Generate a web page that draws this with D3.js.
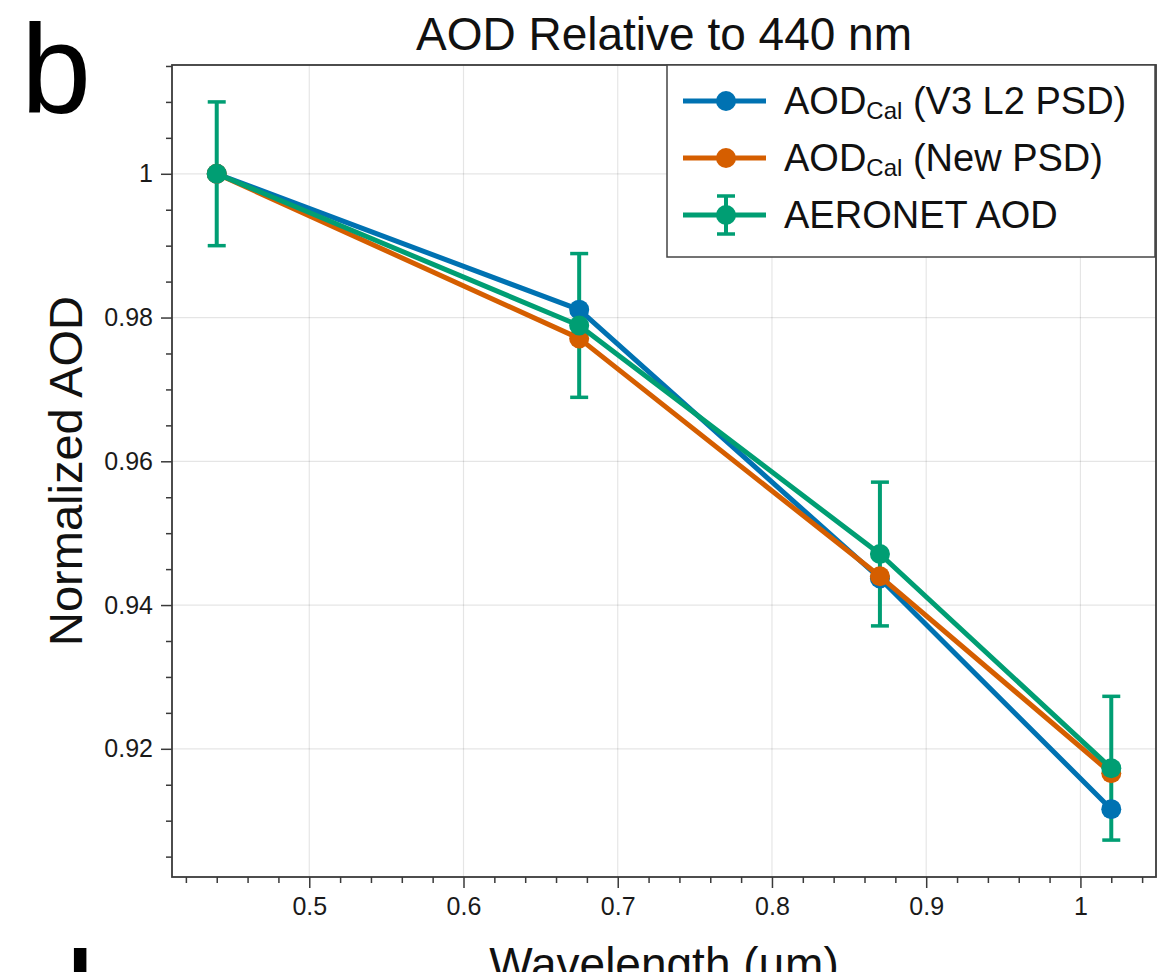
<!DOCTYPE html>
<html>
<head>
<meta charset="utf-8">
<script src="https://cdn.jsdelivr.net/npm/d3@7/dist/d3.min.js"></script>
<style>
  html, body { margin: 0; padding: 0; background: #fff; }
  svg { display: block; font-family: "Liberation Sans", Arial, Helvetica, sans-serif; }
</style>
</head>
<body>
<svg id="chart" width="1172" height="972"></svg>
<script>
// ---- data ----
const wavelengths = [0.44, 0.675, 0.87, 1.02];
const aodV3 = [1.0, 0.9811, 0.9437, 0.9116];
const aodNew = [1.0, 0.9771, 0.9440, 0.9166];
const aodAeronet = [1.0, 0.9789, 0.9471, 0.9173];
const aeronetErr = [0.01, 0.01, 0.01, 0.01];
const xTickValues = [0.5, 0.6, 0.7, 0.8, 0.9, 1.0];
const xTickLabels = ["0.5", "0.6", "0.7", "0.8", "0.9", "1"];
const yTickValues = [0.92, 0.94, 0.96, 0.98, 1.0];
const yTickLabels = ["0.92", "0.94", "0.96", "0.98", "1"];
const titleText = "AOD Relative to 440 nm";
const xLabel = "Wavelength (\u00b5m)";
const yLabel = "Normalized AOD";
const panelLabel = "b";
const nextPanelLabel = "d";

const colors = { v3: "#0072B2", nw: "#D55E00", ae: "#009E73" };

const svg = d3.select("#chart");
const L = 172, R = 1156, T = 65, B = 877;

// autolimits with 5% margin (data + error bars)
const xExt = d3.extent(wavelengths);
const xPad = (xExt[1] - xExt[0]) * 0.05;
const lows = aodAeronet.map((v, i) => v - aeronetErr[i]).concat(aodV3, aodNew);
const highs = aodAeronet.map((v, i) => v + aeronetErr[i]).concat(aodV3, aodNew);
const yLo = d3.min(lows), yHi = d3.max(highs);
const yPad = (yHi - yLo) * 0.05;

const x = d3.scaleLinear().domain([xExt[0] - xPad, xExt[1] + xPad]).range([L, R]);
const y = d3.scaleLinear().domain([yLo - yPad, yHi + yPad]).range([B, T]);

// minor ticks
const xMinor = d3.range(0.42, 1.0491, 0.02).filter(v => !xTickValues.some(t => Math.abs(t - v) < 1e-6));
const yMinor = d3.range(0.905, 1.0152, 0.005).filter(v => !yTickValues.some(t => Math.abs(t - v) < 1e-6));

// grid
const grid = svg.append("g");
grid.selectAll(".gx").data(xTickValues).join("line")
  .attr("x1", d => x(d)).attr("x2", d => x(d)).attr("y1", T).attr("y2", B)
  .attr("stroke", "#000").attr("stroke-opacity", 0.1).attr("stroke-width", 1.2);
grid.selectAll(".gy").data(yTickValues).join("line")
  .attr("x1", L).attr("x2", R).attr("y1", d => y(d)).attr("y2", d => y(d))
  .attr("stroke", "#000").attr("stroke-opacity", 0.1).attr("stroke-width", 1.2);

const axisColor = "#3a3a3a";

// x axis
const xAxis = svg.append("g").attr("transform", `translate(0,${B})`)
  .call(d3.axisBottom(x).tickValues(xTickValues).tickFormat((d, i) => xTickLabels[i]).tickSize(11).tickPadding(9));
const xMinorAxis = svg.append("g").attr("transform", `translate(0,${B})`)
  .call(d3.axisBottom(x).tickValues(xMinor).tickFormat("").tickSize(6));
// y axis
const yAxis = svg.append("g").attr("transform", `translate(${L},0)`)
  .call(d3.axisLeft(y).tickValues(yTickValues).tickFormat((d, i) => yTickLabels[i]).tickSize(11).tickPadding(8));
const yMinorAxis = svg.append("g").attr("transform", `translate(${L},0)`)
  .call(d3.axisLeft(y).tickValues(yMinor).tickFormat("").tickSize(6));

[xAxis, xMinorAxis, yAxis, yMinorAxis].forEach(g => {
  g.select(".domain").remove();
  g.selectAll(".tick line").attr("stroke", axisColor).attr("stroke-width", 1.5);
  g.selectAll(".tick text").attr("fill", "#1a1a1a").attr("font-size", 25)
    .attr("font-family", "'Liberation Sans', Arial, sans-serif");
});

// frame
svg.append("rect").attr("x", L).attr("y", T).attr("width", R - L).attr("height", B - T)
  .attr("fill", "none").attr("stroke", axisColor).attr("stroke-width", 1.8);

// error bars (drawn below the lines)
const eb = svg.append("g");
wavelengths.forEach((w, i) => {
  const lo = y(aodAeronet[i] - aeronetErr[i]), hi = y(aodAeronet[i] + aeronetErr[i]);
  const cx = x(w);
  eb.append("line").attr("x1", cx).attr("x2", cx).attr("y1", lo).attr("y2", hi)
    .attr("stroke", colors.ae).attr("stroke-width", 4);
  [lo, hi].forEach(yy => eb.append("line").attr("x1", cx - 9).attr("x2", cx + 9)
    .attr("y1", yy).attr("y2", yy).attr("stroke", colors.ae).attr("stroke-width", 3.5));
});

const line = d3.line().x(d => x(d[0])).y(d => y(d[1]));
function series(vals, col) {
  const pts = wavelengths.map((w, i) => [w, vals[i]]);
  svg.append("path").datum(pts).attr("d", line).attr("fill", "none")
    .attr("stroke", col).attr("stroke-width", 5).attr("stroke-linejoin", "round");
  svg.append("g").selectAll("circle").data(pts).join("circle")
    .attr("cx", d => x(d[0])).attr("cy", d => y(d[1])).attr("r", 10).attr("fill", col);
}
series(aodV3, colors.v3);
series(aodNew, colors.nw);
series(aodAeronet, colors.ae);

// legend
const lg = svg.append("g");
const lx0 = 667, ly0 = T, lw = R - 1 - 667, lh = 192;
lg.append("rect").attr("x", lx0).attr("y", ly0).attr("width", lw).attr("height", lh)
  .attr("fill", "#fff").attr("stroke", "#444").attr("stroke-width", 1.5);
const rows = [
  { col: colors.v3, main: "AOD", sub: "Cal", rest: " (V3 L2 PSD)", err: false },
  { col: colors.nw, main: "AOD", sub: "Cal", rest: " (New PSD)", err: false },
  { col: colors.ae, main: "AERONET AOD", sub: null, rest: "", err: true }
];
rows.forEach((r, i) => {
  const cy = 101 + i * 57;
  if (r.err) {
    lg.append("line").attr("x1", 726).attr("x2", 726).attr("y1", cy - 19).attr("y2", cy + 19)
      .attr("stroke", r.col).attr("stroke-width", 4);
    [cy - 19, cy + 19].forEach(yy => lg.append("line").attr("x1", 717).attr("x2", 735)
      .attr("y1", yy).attr("y2", yy).attr("stroke", r.col).attr("stroke-width", 3.5));
  }
  lg.append("line").attr("x1", 683).attr("x2", 766).attr("y1", cy).attr("y2", cy)
    .attr("stroke", r.col).attr("stroke-width", 5);
  lg.append("circle").attr("cx", 726).attr("cy", cy).attr("r", 10).attr("fill", r.col);
  const t = lg.append("text").attr("x", 784).attr("y", cy + 13).attr("font-size", 38).attr("fill", "#111");
  t.append("tspan").text(r.main);
  if (r.sub) {
    t.append("tspan").attr("dy", 5).attr("font-size", 24).text(r.sub);
    t.append("tspan").attr("dy", -5).text(r.rest);
  }
});

// title and labels
svg.append("text").attr("x", (L + R) / 2).attr("y", 50).attr("text-anchor", "middle")
  .attr("font-size", 46).attr("fill", "#111").text(titleText);
svg.append("text").attr("x", (L + R) / 2).attr("y", 980).attr("text-anchor", "middle")
  .attr("font-size", 46).attr("fill", "#111").text(xLabel);
svg.append("text").attr("transform", `translate(82,${(T + B) / 2}) rotate(-90)`)
  .attr("text-anchor", "middle").attr("font-size", 47).attr("fill", "#111").text(yLabel);

// panel labels (the next panel's label is cut by the bottom edge, as in the source figure)
svg.append("text").attr("x", 21).attr("y", 113).attr("font-size", 126).attr("fill", "#000").text(panelLabel);
svg.append("text").attr("x", 17).attr("y", 1052).attr("font-size", 142).attr("fill", "#000").text(nextPanelLabel);
</script>
</body>
</html>
